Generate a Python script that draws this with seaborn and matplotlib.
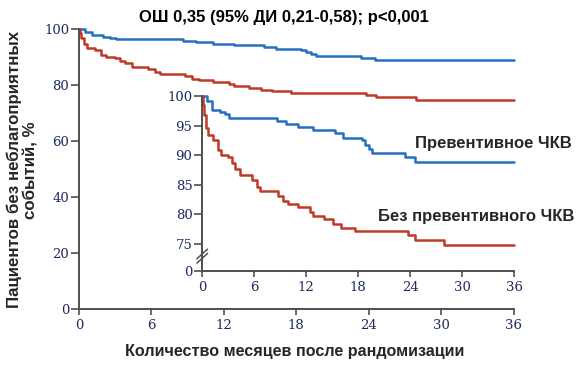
import numpy as np
import pandas as pd
import matplotlib
matplotlib.use("Agg")
import matplotlib.pyplot as plt
import seaborn as sns

# Kaplan-Meier style step curves (months, % without events)
months_pci = [0, 0.5, 1.1, 2.0, 2.6, 3.1, 8.6, 9.7, 11.1, 12.8, 15.3, 16.3,
              18.4, 18.8, 19.2, 19.6, 23.4, 24.5, 36]
surv_pci = [100, 99.1, 97.7, 97.3, 96.9, 96.3, 95.8, 95.3, 94.7, 94.2, 93.7, 92.9,
            92.6, 91.7, 91.1, 90.3, 89.6, 88.9, 88.9]

months_nopci = [0, 0.05, 0.2, 0.4, 0.7, 1.3, 1.85, 2.2, 3.0, 3.4, 3.8, 4.4, 5.75,
                6.3, 6.7, 8.8, 9.35, 9.9, 11.1, 12.4, 12.8, 14.1, 15.1, 16.0, 17.6,
                23.8, 24.6, 27.9, 36]
surv_nopci = [100, 98.5, 96.8, 94.6, 93.4, 92.6, 90.8, 90.0, 89.7, 88.6, 87.7, 86.6,
              85.7, 84.6, 84.0, 83.1, 82.3, 81.7, 81.2, 80.3, 79.6, 79.1, 78.3, 77.7,
              77.1, 76.5, 75.7, 74.7, 74.7]

x_ticks = [0, 6, 12, 18, 24, 30, 36]
main_y_ticks = [0, 20, 40, 60, 80, 100]
inset_y_ticks = [75, 80, 85, 90, 95, 100]
inset_floor = 70.37  # where the broken inset axis shows "0"

title = "ОШ 0,35 (95% ДИ 0,21-0,58); p<0,001"
ylabel = "Пациентов без неблагоприятных\nсобытий, %"
xlabel = "Количество месяцев после рандомизации"
label_pci = "Превентивное ЧКВ"
label_nopci = "Без превентивного ЧКВ"

BLUE = "#2470bf"
RED = "#bf3a26"
NAVY = "#1c2a5e"
SPINE = "#4f4f4f"

df_pci = pd.DataFrame({"month": months_pci, "surv": surv_pci})
df_nopci = pd.DataFrame({"month": months_nopci, "surv": surv_nopci})

sns.set_style("ticks")
plt.rcParams["font.family"] = ["Liberation Sans", "DejaVu Sans"]

fig = plt.figure(figsize=(5.81, 3.65), dpi=100)


def style_axis(ax):
    sns.despine(ax=ax)
    for side in ["left", "bottom"]:
        ax.spines[side].set_color(SPINE)
        ax.spines[side].set_linewidth(1.4)
    ax.tick_params(width=1.2, color=SPINE, labelcolor=NAVY, labelsize=9.5)
    ax.tick_params(axis="x", length=4.5, pad=3)
    ax.tick_params(axis="y", length=6, pad=1)
    for lab in ax.get_xticklabels() + ax.get_yticklabels():
        lab.set_family("DejaVu Serif")


def draw_curves(ax):
    sns.lineplot(data=df_pci, x="month", y="surv", ax=ax, color=BLUE,
                 drawstyle="steps-post", linewidth=1.8, estimator=None,
                 clip_on=False)
    sns.lineplot(data=df_nopci, x="month", y="surv", ax=ax, color=RED,
                 drawstyle="steps-post", linewidth=1.8, estimator=None,
                 clip_on=False)
    ax.set_xlabel("")
    ax.set_ylabel("")


# main panel
ax = fig.add_axes([0.136, 0.1534, 0.748, 0.767])
draw_curves(ax)
ax.set_xlim(0, 36)
ax.set_ylim(0, 100)
ax.set_xticks(x_ticks)
ax.set_yticks(main_y_ticks)
style_axis(ax)

# inset with broken y axis
ax_in = fig.add_axes([0.348, 0.2575, 0.537, 0.4795])
ax_in.patch.set_alpha(0)
draw_curves(ax_in)
ax_in.set_xlim(0, 36)
ax_in.set_ylim(inset_floor, 100)
ax_in.set_xticks(x_ticks)
ax_in.set_yticks([inset_floor] + inset_y_ticks)
ax_in.set_yticklabels(["0"] + [str(v) for v in inset_y_ticks])
style_axis(ax_in)

# the "//" break marks on the inset y axis
for dy in (0.0, 0.025):
    ax_in.plot([-0.017, 0.017], [0.045 + dy, 0.10 + dy], transform=ax_in.transAxes,
               color=SPINE, lw=1.1, clip_on=False)

fig.text(0.489, 0.951, title, ha="center", va="center", fontsize=12,
         fontweight="bold", color="black")
fig.text(0.039, 0.535, ylabel, ha="center", va="center", rotation=90,
         fontsize=12.2, fontweight="bold", linespacing=1.15)
fig.text(0.508, 0.036, xlabel, ha="center", va="center", fontsize=11.6,
         fontweight="bold")
fig.text(0.714, 0.608, label_pci, ha="left", va="center", fontsize=12,
         fontweight="bold")
fig.text(0.651, 0.408, label_nopci, ha="left", va="center", fontsize=12,
         fontweight="bold")

fig.savefig("out.png", dpi=100)
